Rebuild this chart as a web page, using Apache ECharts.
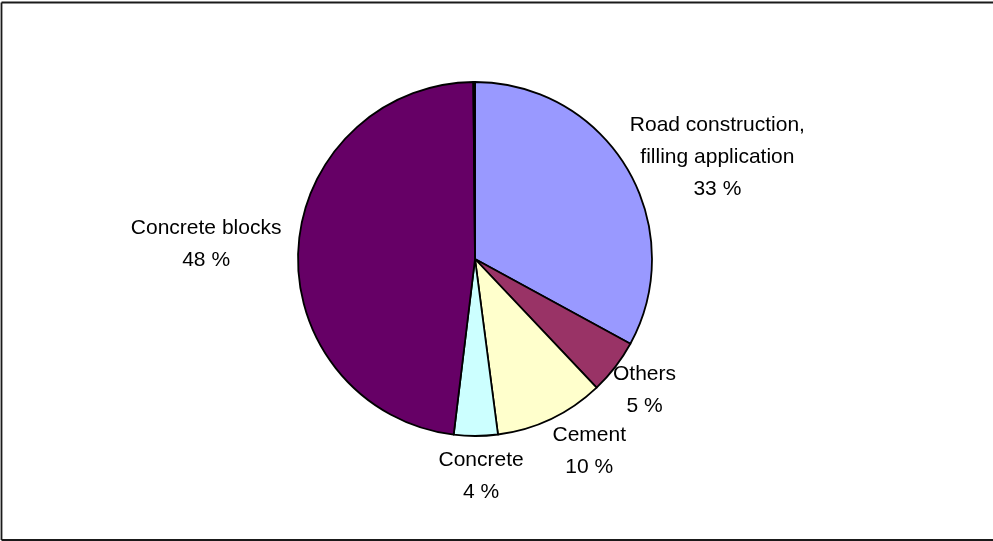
<!DOCTYPE html>
<html>
<head>
<meta charset="utf-8">
<title>Uses of recycled material</title>
<script src="https://cdn.jsdelivr.net/npm/echarts@6/dist/echarts.min.js"></script>
<style>
  html, body { margin: 0; padding: 0; background: #ffffff; }
  #chart { width: 993px; height: 541px; }
</style>
</head>
<body>
<div id="chart"></div>
<script>
// Share of each application (percent), clockwise from 12 o'clock
var categories = [
  'Road construction,\nfilling application',
  'Others',
  'Cement',
  'Concrete',
  'Concrete blocks',
  'Other minor uses'
];
var shares = [33, 5, 10, 4, 48, 0.15];
var sliceColors = ['#9999FF', '#993366', '#FFFFCC', '#CCFFFF', '#660066', '#330033'];
var showLabel = [true, true, true, true, true, false];

var chart = echarts.init(document.getElementById('chart'), null, { renderer: 'canvas' });

var CX = 475, CY = 259, R = 177;
var total = shares.reduce(function (a, b) { return a + b; }, 0);

// Mid angle of each slice (degrees clockwise from 12 o'clock)
var midAngles = [];
(function () {
  var acc = 0;
  for (var i = 0; i < shares.length; i++) {
    midAngles.push((acc + shares[i] / 2) / total * 360);
    acc += shares[i];
  }
})();

// Small per-label nudges so the text blocks sit clear of each other
var nudge = [[8, 17], [-2, -1], [19, -4], [5, 0], [-9, -3], [0, 0]];

var data = categories.map(function (name, i) {
  return {
    name: name,
    value: shares[i],
    itemStyle: { color: sliceColors[i] },
    label: { show: showLabel[i] }
  };
});

var frameStyle = { stroke: '#1a1a1a', lineWidth: 1.8 };

chart.setOption({
  animation: false,
  backgroundColor: '#ffffff',
  graphic: [
    { type: 'line', silent: true, shape: { x1: 1.5, y1: 2.5, x2: 993, y2: 2.5 }, style: frameStyle },
    { type: 'line', silent: true, shape: { x1: 1.5, y1: 2.5, x2: 1.5, y2: 540 }, style: frameStyle },
    { type: 'line', silent: true, shape: { x1: 1.5, y1: 540, x2: 993, y2: 540 }, style: frameStyle }
  ],
  series: [{
    type: 'pie',
    center: [CX, CY],
    radius: [0, R],
    startAngle: 90,
    clockwise: true,
    avoidLabelOverlap: false,
    minAngle: 0,
    silent: true,
    emphasis: { disabled: true },
    itemStyle: { borderColor: '#000000', borderWidth: 1.8 },
    label: {
      show: true,
      position: 'outside',
      color: '#000000',
      fontFamily: 'Arial, "Liberation Sans", sans-serif',
      fontSize: 21,
      lineHeight: 32,
      align: 'center',
      formatter: function (p) {
        return p.name + '\n' + Math.round(p.percent) + ' %';
      }
    },
    labelLine: { show: false },
    labelLayout: function (p) {
      var i = p.dataIndex;
      var a = midAngles[i] * Math.PI / 180;
      var dx = Math.sin(a), dy = -Math.cos(a);
      var w = p.labelRect.width, h = p.labelRect.height;
      var gap = 8;
      return {
        x: CX + dx * (R + gap) + dx * w / 2 + nudge[i][0],
        y: CY + dy * (R + gap) + dy * h / 2 + nudge[i][1],
        align: 'center',
        verticalAlign: 'middle'
      };
    },
    data: data
  }]
});
</script>
</body>
</html>
